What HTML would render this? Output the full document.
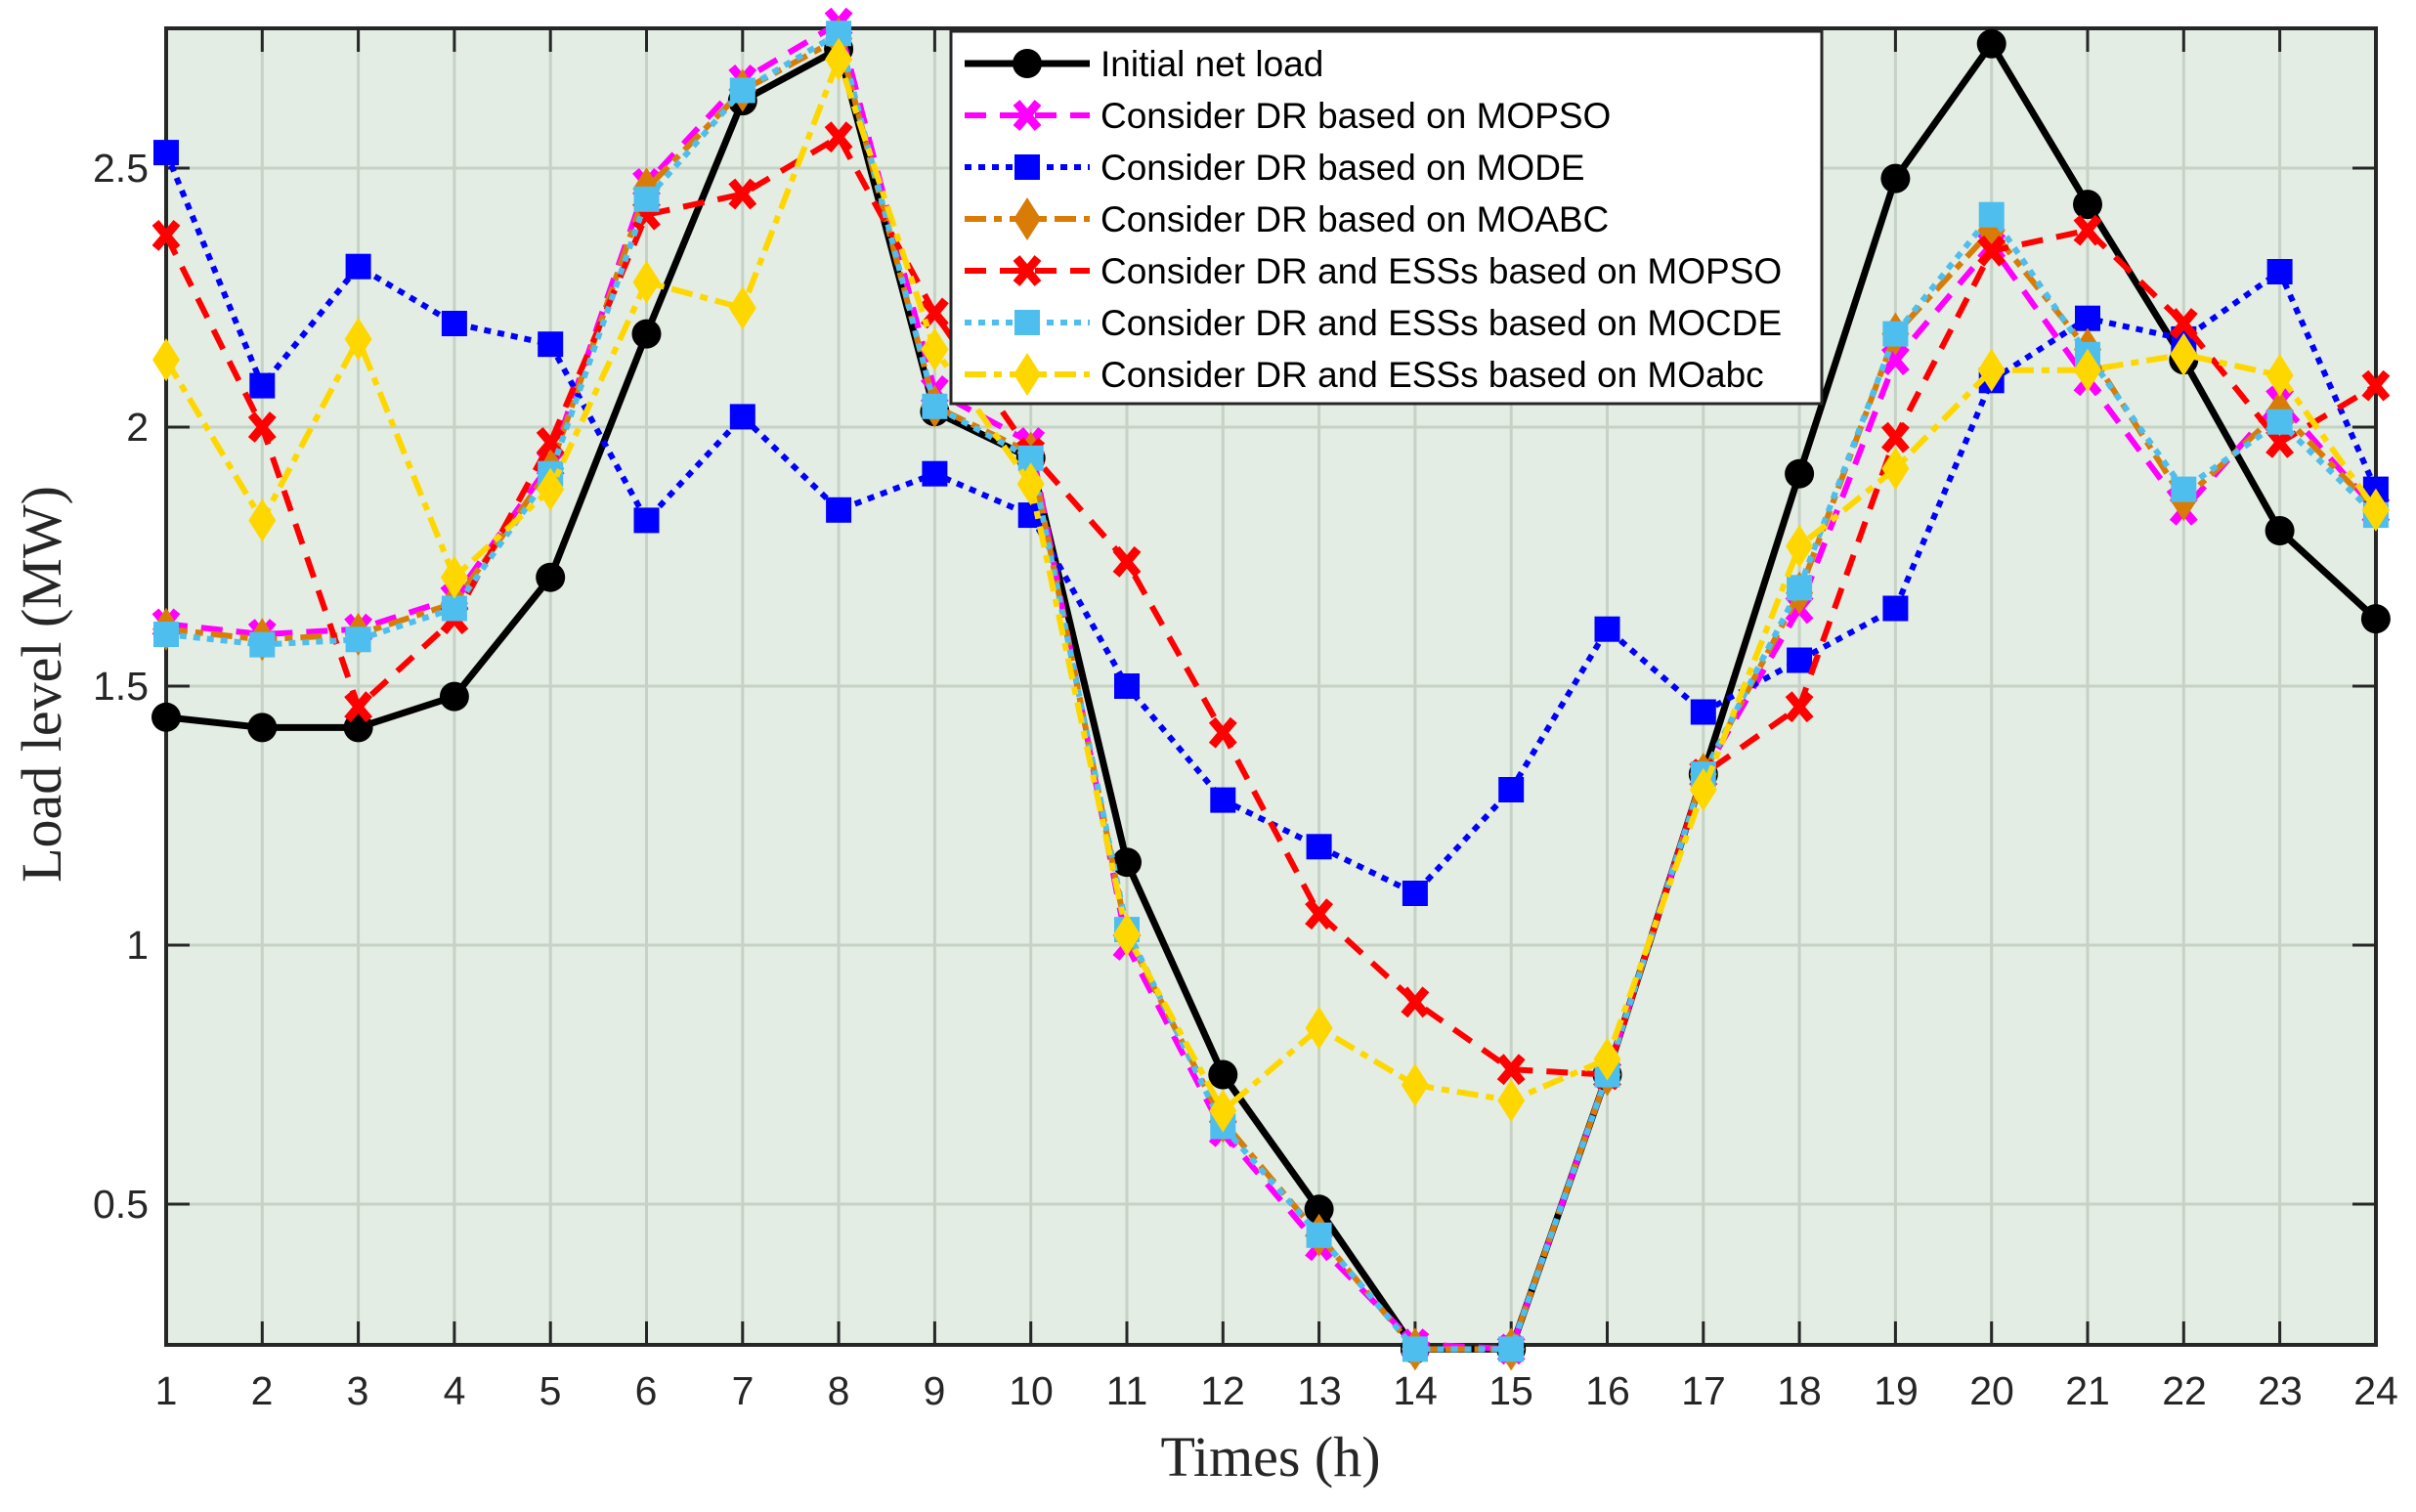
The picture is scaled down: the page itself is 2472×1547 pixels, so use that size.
<!DOCTYPE html>
<html><head><meta charset="utf-8"><style>
html,body{margin:0;padding:0;background:#fff;}
svg{display:block;font-family:"Liberation Sans",Arial,sans-serif;}
</style></head><body>
<svg id="s" width="2472" height="1547" viewBox="0 0 2472 1547" xmlns="http://www.w3.org/2000/svg">
<defs><clipPath id="cp"><rect x="170" y="20" width="2261" height="1356"/></clipPath></defs>
<rect x="170" y="29" width="2261" height="1347" fill="#e3ede3"/>
<g id="grid" stroke="#c6d2c6" stroke-width="3"></g>
<g id="ticks" stroke="#262626" stroke-width="3"></g>
<rect x="170" y="29" width="2261" height="1347" fill="none" stroke="#262626" stroke-width="4"/>
<g id="series"></g>
<g font-size="41" fill="#262626" text-anchor="middle">
<text x="170" y="1437">1</text><text x="268" y="1437">2</text><text x="366" y="1437">3</text><text x="465" y="1437">4</text><text x="563" y="1437">5</text><text x="661" y="1437">6</text><text x="760" y="1437">7</text><text x="858" y="1437">8</text><text x="956" y="1437">9</text><text x="1055" y="1437">10</text><text x="1153" y="1437">11</text><text x="1251" y="1437">12</text><text x="1350" y="1437">13</text><text x="1448" y="1437">14</text><text x="1546" y="1437">15</text><text x="1645" y="1437">16</text><text x="1743" y="1437">17</text><text x="1841" y="1437">18</text><text x="1940" y="1437">19</text><text x="2038" y="1437">20</text><text x="2136" y="1437">21</text><text x="2235" y="1437">22</text><text x="2333" y="1437">23</text><text x="2431" y="1437">24</text>
</g>
<g font-size="41" fill="#262626" text-anchor="end">
<text x="152" y="1246">0.5</text><text x="152" y="981">1</text><text x="152" y="716">1.5</text><text x="152" y="451">2</text><text x="152" y="186">2.5</text>
</g>
<text x="1300" y="1510" font-family="'Liberation Serif',serif" font-size="58" text-anchor="middle" fill="#262626">Times (h)</text>
<text transform="translate(62,700) rotate(-90)" font-family="'Liberation Serif',serif" font-size="58" text-anchor="middle" fill="#262626">Load level (MW)</text>
<rect x="973" y="32" width="891" height="381" fill="#fff" stroke="#262626" stroke-width="3"/>
<g id="leg"></g>
<g font-size="37" fill="#000">
<text x="1126" y="78">Initial net load</text>
<text x="1126" y="131">Consider DR based on MOPSO</text>
<text x="1126" y="184">Consider DR based on MODE</text>
<text x="1126" y="237">Consider DR based on MOABC</text>
<text x="1126" y="290">Consider DR and ESSs based on MOPSO</text>
<text x="1126" y="343">Consider DR and ESSs based on MOCDE</text>
<text x="1126" y="396">Consider DR and ESSs based on MOabc</text>
</g>
</svg>
<script>
var NS="http://www.w3.org/2000/svg";
function el(p,t,a){var e=document.createElementNS(NS,t);for(var k in a)e.setAttribute(k,a[k]);p.appendChild(e);return e;}
function X(h){return 170+(h-1)*98.3;}
function Y(v){return 172+(2.5-v)*530;}
var g=document.getElementById('grid'),tk=document.getElementById('ticks');
for(var h=2;h<=23;h++){el(g,'line',{x1:X(h),x2:X(h),y1:29,y2:1376});}
[0.5,1,1.5,2,2.5].forEach(function(v){el(g,'line',{x1:170,x2:2431,y1:Y(v),y2:Y(v)});
el(tk,'line',{x1:170,x2:194,y1:Y(v),y2:Y(v)});el(tk,'line',{x1:2407,x2:2431,y1:Y(v),y2:Y(v)});});
for(var h=1;h<=24;h++){el(tk,'line',{x1:X(h),x2:X(h),y1:1376,y2:1352});el(tk,'line',{x1:X(h),x2:X(h),y1:29,y2:53});}
var S=[
{c:'#000',d:'',m:'o',w:7,v:[1.44,1.42,1.42,1.48,1.71,2.18,2.63,2.73,2.03,1.94,1.16,0.75,0.49,0.22,0.22,0.75,1.33,1.91,2.48,2.74,2.43,2.13,1.80,1.63]},
{c:'#ff00ff',d:'22 14',m:'x',w:6,v:[1.62,1.60,1.61,1.67,1.93,2.47,2.67,2.78,2.07,1.97,1.00,0.64,0.42,0.23,0.22,0.75,1.33,1.65,2.13,2.35,2.09,1.84,2.05,1.84]},
{c:'#0000ff',d:'7 7',m:'s',w:6,v:[2.53,2.08,2.31,2.20,2.16,1.82,2.02,1.84,1.91,1.83,1.50,1.28,1.19,1.10,1.30,1.61,1.45,1.55,1.65,2.09,2.21,2.17,2.30,1.88]},
{c:'#d97c06',d:'22 8 8 8',m:'d',w:6,v:[1.61,1.59,1.60,1.66,1.92,2.46,2.65,2.75,2.04,1.95,1.02,0.66,0.44,0.22,0.22,0.75,1.33,1.68,2.18,2.38,2.15,1.86,2.03,1.84]},
{c:'#ff0000',d:'22 14',m:'x',w:6,v:[2.37,2.00,1.46,1.63,1.97,2.41,2.45,2.56,2.22,1.95,1.74,1.41,1.06,0.89,0.76,0.75,1.33,1.46,1.98,2.34,2.38,2.20,1.97,2.08]},
{c:'#4dbeee',d:'7 7',m:'s',w:6,v:[1.60,1.58,1.59,1.65,1.91,2.44,2.65,2.76,2.04,1.94,1.03,0.65,0.44,0.22,0.22,0.75,1.33,1.69,2.18,2.41,2.14,1.88,2.01,1.83]},
{c:'#ffd700',d:'22 8 8 8',m:'d',w:6,v:[2.13,1.82,2.17,1.71,1.88,2.28,2.23,2.71,2.15,1.89,1.02,0.68,0.84,0.73,0.70,0.78,1.30,1.77,1.92,2.11,2.11,2.14,2.10,1.84]}];
function mk(p,m,x,y,c){
 if(m=='o')el(p,'circle',{cx:x,cy:y,r:15,fill:c});
 else if(m=='s')el(p,'rect',{x:x-13,y:y-13,width:26,height:26,fill:c});
 else if(m=='d')el(p,'polygon',{points:(x)+','+(y-22)+' '+(x+14)+','+y+' '+x+','+(y+22)+' '+(x-14)+','+y,fill:c});
 else{el(p,'path',{d:'M'+(x-11)+' '+(y-13)+'L'+(x+11)+' '+(y+13)+'M'+(x+11)+' '+(y-13)+'L'+(x-11)+' '+(y+13),stroke:c,'stroke-width':9,fill:'none'});}
}
var sg=document.getElementById('series'),lg=document.getElementById('leg');
S.forEach(function(s,i){
 var pts=s.v.map(function(v,k){return X(k+1)+','+Y(v);}).join(' ');
 var a={points:pts,fill:'none',stroke:s.c,'stroke-width':s.w,'stroke-linejoin':'round'};
 if(s.d)a['stroke-dasharray']=s.d;
 el(sg,'polyline',a);
 s.v.forEach(function(v,k){mk(sg,s.m,X(k+1),Y(v),s.c);});
 var ly=65+i*53;
 var b={x1:987,x2:1115,y1:ly,y2:ly,stroke:s.c,'stroke-width':s.w};
 if(s.d)b['stroke-dasharray']=s.d;
 el(lg,'line',b);mk(lg,s.m,1051,ly,s.c);
});
</script>
</body></html>
